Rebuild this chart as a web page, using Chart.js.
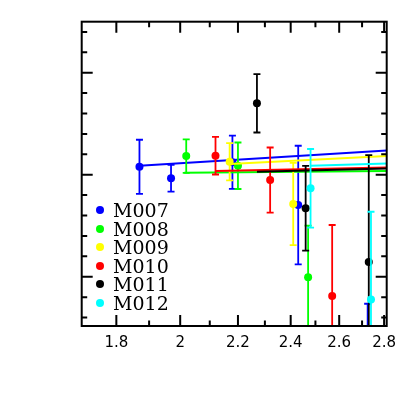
<!DOCTYPE html>
<html>
<head>
<meta charset="utf-8">
<script src="https://cdn.jsdelivr.net/npm/chart.js@4/dist/chart.umd.min.js"></script>
<style>
html,body{margin:0;padding:0;background:#fff;}
#wrap{position:relative;width:409px;height:409px;overflow:hidden;}
#c{position:absolute;left:0;top:0;}
.ldot{position:absolute;width:8px;height:8px;border-radius:50%;}
.ltxt{position:absolute;font-family:"DejaVu Serif";font-size:19px;line-height:20px;color:#000;white-space:nowrap;}
</style>
</head>
<body>
<div id="wrap"><canvas id="c" width="409" height="409"></canvas><div id="legend"></div></div>
<script>
// ---------- data ----------
const seriesNames = ['M007', 'M008', 'M009', 'M010', 'M011', 'M012'];

const m007X   = [1.87, 1.97, 2.18, 2.43, 2.725];
const m007Y   = [0.078, -0.035, 0.122, -0.297, -1.70];
const m007Err = [0.265, 0.131, 0.261, 0.581, 0.435];

const m008X   = [2.02, 2.20, 2.47];
const m008Y   = [0.183, 0.088, -1.006];
const m008Err = [0.164, 0.228, 0.506];

const m009X   = [2.17, 2.41];
const m009Y   = [0.127, -0.287];
const m009Err = [0.183, 0.404];

const m010X   = [2.12, 2.32, 2.57];
const m010Y   = [0.186, -0.052, -1.189];
const m010Err = [0.184, 0.319, 0.696];

const m011X   = [2.27, 2.46, 2.73];
const m011Y   = [0.700, -0.329, -0.856];
const m011Err = [0.286, 0.416, 1.049];

const m012X   = [2.48, 2.74];
const m012Y   = [-0.133, -1.222];
const m012Err = [0.385, 0.859];

// fitted lines: start and end of each series' fit
const fitStartX = [1.87, 2.013, 2.17, 2.12, 2.27, 2.48];
const fitStartY = [0.088, 0.020, 0.105, 0.036, 0.029, 0.088];
const fitEndX   = [2.812, 2.812, 2.812, 2.812, 2.812, 2.812];
const fitEndY   = [0.237, 0.036, 0.183, 0.071, 0.061, 0.110];

// axis ticks
const xTickValues = [1.8, 2, 2.2, 2.4, 2.6, 2.8];
const xTickLabels = ['1.8', '2', '2.2', '2.4', '2.6', '2.8'];
const xMinorTicks = [1.9, 2.1, 2.3, 2.5, 2.7];
const yMajorTicks = [-1, 0, 1];
const yMinorTicks = [-1.4, -1.2, -0.8, -0.6, -0.4, -0.2, 0.2, 0.4, 0.6, 0.8, 1.2, 1.4];

// ---------- styles ----------
const seriesColors = ['#0000ff', '#00ff00', '#ffff00', '#ff0000', '#000000', '#00ffff'];
const allX = [m007X, m008X, m009X, m010X, m011X, m012X];
const allY = [m007Y, m008Y, m009Y, m010Y, m011Y, m012Y];
const allErr = [m007Err, m008Err, m009Err, m010Err, m011Err, m012Err];

const datasets = [];
const n = seriesNames.length;
for (let i = 0; i < n; i++) {
  const col = seriesColors[i];
  const base = (n - i) * 10;
  datasets.push({
    type: 'line', label: seriesNames[i] + ' fit',
    data: [{x: fitStartX[i], y: fitStartY[i]}, {x: fitEndX[i], y: fitEndY[i]}],
    borderColor: col, borderWidth: 2, pointRadius: 0, fill: false, order: base
  });
  datasets.push({
    type: 'scatter', label: seriesNames[i],
    data: allX[i].map((x, j) => ({x: x, y: allY[i][j]})),
    backgroundColor: col, borderWidth: 0, pointRadius: 4, order: base + 1
  });
  allX[i].forEach((x, j) => {
    const y = allY[i][j], e = allErr[i][j];
    datasets.push({
      type: 'line', label: seriesNames[i] + ' err',
      data: [{x: x, y: y - e}, {x: x, y: y + e}],
      borderColor: col, borderWidth: 1.8, fill: false,
      pointStyle: 'line', pointRadius: 3.5, pointBorderWidth: 1.8,
      pointBorderColor: col, pointBackgroundColor: col, order: base + 2
    });
  });
}

const framePlugin = {
  id: 'frame',
  afterDatasetsDraw(chart) {
    const {ctx, chartArea: a, scales: {x, y}} = chart;
    ctx.save();
    ctx.strokeStyle = '#000';
    ctx.lineWidth = 2;
    ctx.beginPath();
    const tick = (v, len, isX) => {
      if (isX) {
        const px = x.getPixelForValue(v);
        ctx.moveTo(px, a.bottom); ctx.lineTo(px, a.bottom - len);
        ctx.moveTo(px, a.top); ctx.lineTo(px, a.top + len);
      } else {
        const py = y.getPixelForValue(v);
        ctx.moveTo(a.left, py); ctx.lineTo(a.left + len, py);
        ctx.moveTo(a.right, py); ctx.lineTo(a.right - len, py);
      }
    };
    xTickValues.forEach(v => tick(v, 11, true));
    xMinorTicks.forEach(v => tick(v, 5.5, true));
    yMajorTicks.forEach(v => tick(v, 11, false));
    yMinorTicks.forEach(v => tick(v, 5.5, false));
    ctx.stroke();
    ctx.strokeRect(a.left, a.top, a.right - a.left, a.bottom - a.top);
    ctx.restore();
  }
};

new Chart(document.getElementById('c'), {
  type: 'scatter',
  data: {datasets: datasets},
  options: {
    responsive: false, animation: false, devicePixelRatio: 1,
    layout: {padding: {left: 0, top: 21.7, right: 22.3, bottom: 0}},
    plugins: {legend: {display: false}, tooltip: {enabled: false}},
    scales: {
      x: {
        type: 'logarithmic', min: 1.7, max: 2.812, position: 'bottom',
        grid: {display: false, drawTicks: false}, border: {display: false},
        afterBuildTicks: s => { s.ticks = xTickValues.map(v => ({value: v})); },
        afterFit: s => { s.height = 83; },
        ticks: {
          autoSkip: false, maxRotation: 0, minRotation: 0, padding: 8, color: '#000',
          font: {family: 'DejaVu Sans', size: 15},
          callback: (v) => xTickLabels[xTickValues.indexOf(v)]
        }
      },
      y: {
        type: 'linear', min: -1.483, max: 1.5,
        grid: {display: false, drawTicks: false}, border: {display: false},
        ticks: {display: false},
        afterFit: s => { s.width = 81.7; }
      }
    }
  },
  plugins: [framePlugin]
});

// legend (HTML text)
const leg = document.getElementById('legend');
seriesNames.forEach((name, i) => {
  const cy = 210 + 18.5 * i;
  const d = document.createElement('div');
  d.className = 'ldot';
  d.style.left = '96px'; d.style.top = (cy - 4) + 'px';
  d.style.background = seriesColors[i];
  leg.appendChild(d);
  const t = document.createElement('div');
  t.className = 'ltxt';
  t.style.left = '113px'; t.style.top = (cy - 9.6) + 'px';
  t.textContent = name;
  leg.appendChild(t);
});
</script>
</body>
</html>
